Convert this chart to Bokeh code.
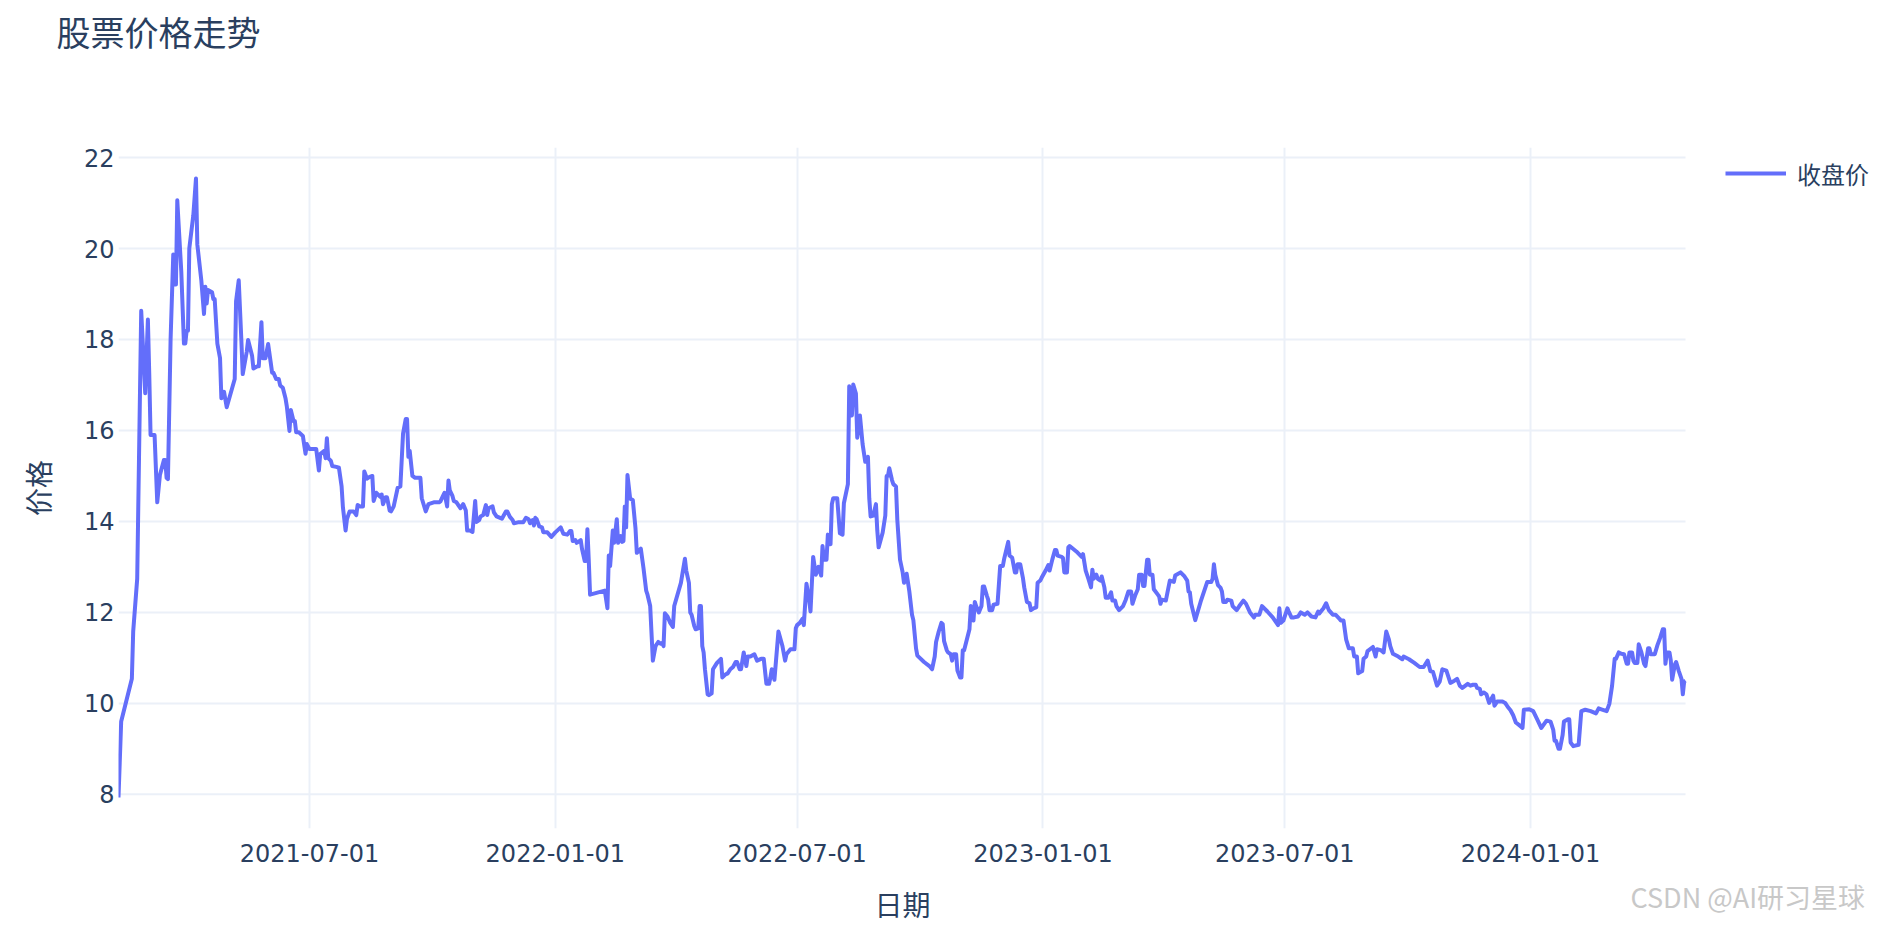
import pandas as pd
from bokeh.plotting import figure
from bokeh.models import (ColumnDataSource, Range1d, FixedTicker, DatetimeTickFormatter,
                          Legend, LegendItem, Title)
from bokeh.embed import file_html
from bokeh.resources import INLINE

title_text = "股票价格走势"
x_label = "日期"
y_label = "价格"
series_name = "收盘价"
watermark = "CSDN @AI研习星球"
y_ticks = [8, 10, 12, 14, 16, 18, 20, 22]
x_ticks = ["2021-07-01", "2022-01-01", "2022-07-01", "2023-01-01", "2023-07-01", "2024-01-01"]

days_2021 = ["02-08", "02-10", "02-18", "02-19", "02-22", "02-25", "02-28", "03-02", "03-03", "03-04",
             "03-07", "03-09", "03-11", "03-14", "03-15", "03-16", "03-17", "03-19", "03-21", "03-22",
             "03-23", "03-24", "03-27", "03-29", "03-30", "03-31", "04-01", "04-02", "04-05", "04-07",
             "04-08", "04-11", "04-13", "04-14", "04-15", "04-16", "04-19", "04-20", "04-21", "04-23",
             "04-25", "04-26", "04-28", "04-30", "05-06", "05-07", "05-09", "05-11", "05-12", "05-15",
             "05-16", "05-19", "05-20", "05-23", "05-24", "05-26", "05-27", "05-29", "05-31", "06-02",
             "06-03", "06-04", "06-06", "06-08", "06-09", "06-11", "06-13", "06-14", "06-16", "06-17",
             "06-19", "06-20", "06-21", "06-23", "06-26", "06-28", "06-29", "07-01", "07-04", "07-06",
             "07-08", "07-09", "07-12", "07-13", "07-14", "07-15", "07-17", "07-18", "07-21", "07-23",
             "07-25", "07-26", "07-28", "07-29", "07-31", "08-03", "08-05", "08-06", "08-08", "08-10",
             "08-11", "08-13", "08-15", "08-17", "08-18", "08-20", "08-22", "08-23", "08-24", "08-25",
             "08-27", "08-28", "08-30", "08-31", "09-02", "09-05", "09-07", "09-09", "09-11", "09-12",
             "09-13", "09-14", "09-16", "09-18", "09-22", "09-23", "09-26", "09-28", "10-02", "10-06",
             "10-07", "10-09", "10-10", "10-12", "10-13", "10-14", "10-16", "10-17", "10-19", "10-21",
             "10-22", "10-24", "10-26", "10-27", "10-29", "10-31", "11-02", "11-03", "11-05", "11-06",
             "11-08", "11-10", "11-11", "11-12", "11-15", "11-16", "11-18", "11-22", "11-25", "11-26",
             "11-28", "11-30", "12-01", "12-04", "12-08", "12-10", "12-12", "12-13", "12-15", "12-16",
             "12-17", "12-18", "12-20", "12-22", "12-23", "12-26", "12-29"]
close_2021 = [7.93, 9.60, 10.54, 11.58, 12.74, 18.63, 16.82, 18.44, 17.27, 15.90,
              15.90, 14.42, 15.02, 15.35, 15.35, 14.96, 14.93, 18.01, 19.87, 19.21,
              19.21, 21.06, 19.49, 17.91, 17.91, 18.19, 18.19, 20.00, 20.73, 21.54,
              20.09, 19.30, 18.56, 19.16, 18.79, 19.09, 19.04, 18.89, 18.89, 17.91,
              17.59, 16.71, 16.85, 16.51, 17.13, 18.84, 19.30, 17.96, 17.24, 17.73,
              17.99, 17.64, 17.36, 17.41, 17.41, 18.38, 17.59, 17.59, 17.90, 17.48,
              17.27, 17.27, 17.13, 17.13, 16.99, 16.94, 16.71, 16.53, 15.99, 16.45,
              16.21, 16.21, 15.96, 15.96, 15.88, 15.49, 15.70, 15.59, 15.59, 15.59,
              15.12, 15.48, 15.55, 15.39, 15.83, 15.39, 15.33, 15.22, 15.20, 15.18,
              14.77, 14.31, 13.80, 14.05, 14.22, 14.22, 14.14, 14.36, 14.33, 14.33,
              15.10, 14.94, 14.98, 15.00, 14.45, 14.63, 14.57, 14.54, 14.59, 14.38,
              14.53, 14.53, 14.24, 14.22, 14.33, 14.74, 14.77, 15.93, 16.25, 16.25,
              15.42, 15.55, 15.00, 14.96, 14.96, 14.51, 14.22, 14.38, 14.42, 14.42,
              14.44, 14.57, 14.63, 14.33, 14.90, 14.68, 14.56, 14.45, 14.42, 14.33,
              14.29, 14.38, 14.24, 13.80, 13.80, 13.77, 14.45, 13.99, 14.03, 14.11,
              14.14, 14.36, 14.14, 14.29, 14.33, 14.20, 14.11, 14.06, 14.22, 14.22,
              14.10, 14.03, 13.96, 13.98, 13.98, 14.08, 14.05, 13.96, 14.03, 13.91,
              14.08, 14.05, 13.89, 13.87, 13.76, 13.76, 13.66]

days_2022 = ["01-01", "01-05", "01-07", "01-10", "01-12", "01-13", "01-14", "01-16", "01-17", "01-20",
             "01-21", "01-23", "01-24", "01-25", "01-26", "01-27", "02-07", "02-09", "02-10", "02-11",
             "02-13", "02-14", "02-16", "02-17", "02-19", "02-20", "02-21", "02-22", "02-23", "02-24",
             "02-26", "02-28", "03-02", "03-03", "03-06", "03-08", "03-10", "03-11", "03-13", "03-15",
             "03-17", "03-19", "03-21", "03-22", "03-23", "03-24", "03-26", "03-28", "03-30", "03-31",
             "04-05", "04-08", "04-09", "04-11", "04-12", "04-13", "04-15", "04-16", "04-18", "04-19",
             "04-20", "04-21", "04-22", "04-23", "04-25", "04-26", "04-28", "04-29", "05-02", "05-05",
             "05-06", "05-08", "05-10", "05-12", "05-14", "05-16", "05-17", "05-19", "05-20", "05-22",
             "05-24", "05-25", "05-27", "05-30", "06-01", "06-04", "06-06", "06-08", "06-10", "06-11",
             "06-12", "06-14", "06-17", "06-20", "06-22", "06-23", "06-26", "06-29", "06-30", "07-01",
             "07-03", "07-05", "07-06", "07-08", "07-10", "07-11", "07-13", "07-15", "07-17", "07-19",
             "07-20", "07-21", "07-23", "07-24", "07-26", "07-27", "07-28", "07-31", "08-02", "08-04",
             "08-05", "08-08", "08-09", "08-11", "08-12", "08-14", "08-15", "08-17", "08-19", "08-21",
             "08-23", "08-24", "08-25", "08-27", "08-29", "08-30", "08-31", "09-03", "09-05", "09-06",
             "09-07", "09-08", "09-10", "09-11", "09-13", "09-14", "09-16", "09-18", "09-19", "09-21",
             "09-23", "09-25", "09-26", "09-28", "09-29", "10-04", "10-08", "10-10", "10-12", "10-13",
             "10-15", "10-17", "10-18", "10-19", "10-21", "10-22", "10-24", "10-25", "10-26", "10-28",
             "10-29", "10-31", "11-01", "11-02", "11-03", "11-05", "11-07", "11-08", "11-10", "11-11",
             "11-12", "11-14", "11-16", "11-17", "11-18", "11-20", "11-21", "11-22", "11-24", "11-25",
             "11-28", "11-30", "12-02", "12-03", "12-06", "12-07", "12-09", "12-11", "12-12", "12-13",
             "12-15", "12-17", "12-18", "12-20", "12-22", "12-23", "12-25", "12-27", "12-28", "12-30",
             "12-31"]
close_2022 = [13.76, 13.87, 13.73, 13.71, 13.79, 13.79, 13.57, 13.59, 13.53, 13.59,
              13.39, 13.13, 13.13, 13.83, 13.16, 12.39, 12.48, 12.09, 13.25, 13.02,
              13.80, 13.53, 14.05, 13.53, 13.68, 13.55, 13.57, 14.33, 13.87, 15.02,
              14.50, 14.47, 13.85, 13.31, 13.40, 12.97, 12.48, 12.39, 12.14, 10.94,
              11.26, 11.35, 11.31, 11.33, 11.26, 11.98, 11.91, 11.77, 11.68, 12.14,
              12.65, 13.18, 12.92, 12.65, 12.00, 11.95, 11.70, 11.63, 11.65, 12.14,
              12.14, 11.26, 11.12, 10.75, 10.20, 10.18, 10.22, 10.75, 10.89, 10.98,
              10.57, 10.63, 10.66, 10.75, 10.80, 10.91, 10.91, 10.75, 10.75, 11.12,
              10.82, 11.03, 11.03, 11.08, 10.94, 10.98, 10.98, 10.43, 10.43, 10.57,
              10.75, 10.52, 11.58, 11.26, 10.94, 11.08, 11.19, 11.19, 11.65, 11.72,
              11.77, 11.86, 11.72, 12.63, 12.28, 12.02, 13.22, 12.83, 13.00, 12.81,
              13.46, 13.16, 13.16, 13.71, 13.50, 14.38, 14.51, 14.51, 13.74, 13.71,
              14.40, 14.82, 16.97, 16.33, 17.01, 16.81, 15.84, 16.33, 15.70, 15.31,
              15.42, 14.51, 14.11, 14.13, 14.38, 13.80, 13.43, 13.75, 14.13, 15.00,
              15.00, 15.17, 14.91, 14.82, 14.77, 14.03, 13.16, 12.88, 12.65, 12.85,
              12.46, 11.95, 11.83, 11.21, 11.05, 10.91, 10.82, 10.75, 11.03, 11.35,
              11.58, 11.77, 11.74, 11.37, 11.17, 11.12, 11.08, 10.94, 11.08, 11.08,
              10.72, 10.57, 10.57, 11.17, 11.17, 11.40, 11.63, 12.14, 11.82, 12.23,
              12.14, 12.00, 12.14, 12.57, 12.57, 12.37, 12.28, 12.05, 12.05, 12.17,
              12.19, 13.02, 13.02, 13.18, 13.55, 13.25, 13.20, 12.88, 12.88, 13.06,
              13.06, 12.76, 12.55, 12.23, 12.20, 12.05, 12.09, 12.11, 12.65, 12.70,
              12.76]

days_2023 = ["01-03", "01-05", "01-06", "01-08", "01-10", "01-11", "01-12", "01-15", "01-16", "01-17",
             "01-19", "01-20", "01-21", "01-26", "01-30", "01-31", "02-02", "02-04", "02-06", "02-07",
             "02-08", "02-10", "02-11", "02-13", "02-14", "02-16", "02-17", "02-19", "02-21", "02-22",
             "02-24", "02-25", "02-27", "03-02", "03-04", "03-06", "03-08", "03-09", "03-11", "03-13",
             "03-14", "03-16", "03-17", "03-18", "03-20", "03-21", "03-22", "03-24", "03-25", "03-28",
             "03-29", "03-30", "03-31", "04-03", "04-06", "04-09", "04-10", "04-14", "04-17", "04-19",
             "04-20", "04-21", "04-22", "04-25", "04-29", "05-04", "05-07", "05-08", "05-09", "05-10",
             "05-12", "05-14", "05-15", "05-16", "05-18", "05-19", "05-22", "05-23", "05-26", "05-28",
             "05-31", "06-02", "06-05", "06-08", "06-09", "06-12", "06-14", "06-18", "06-22", "06-26",
             "06-27", "06-28", "06-30", "07-03", "07-04", "07-06", "07-08", "07-11", "07-13", "07-16",
             "07-18", "07-21", "07-24", "07-26", "07-27", "07-30", "08-01", "08-03", "08-06", "08-08",
             "08-11", "08-12", "08-14", "08-16", "08-18", "08-21", "08-22", "08-24", "08-25", "08-28",
             "08-29", "08-31", "09-01", "09-05", "09-07", "09-08", "09-11", "09-13", "09-15", "09-17",
             "09-18", "09-20", "09-24", "09-27", "09-28", "10-02", "10-06", "10-10", "10-13", "10-16",
             "10-18", "10-20", "10-23", "10-25", "10-27", "10-30", "11-02", "11-05", "11-07", "11-09",
             "11-11", "11-15", "11-17", "11-19", "11-21", "11-22", "11-24", "11-25", "11-27", "11-29",
             "12-01", "12-04", "12-05", "12-07", "12-11", "12-13", "12-15", "12-17", "12-19", "12-21",
             "12-24", "12-26", "12-27", "12-31"]
close_2023 = [12.92, 13.04, 12.92, 13.16, 13.37, 13.37, 13.25, 13.22, 13.20, 12.88,
              12.88, 13.43, 13.46, 13.34, 13.22, 13.28, 12.92, 12.74, 12.55, 12.94,
              12.74, 12.83, 12.74, 12.70, 12.79, 12.55, 12.32, 12.32, 12.44, 12.26,
              12.26, 12.14, 12.05, 12.14, 12.28, 12.46, 12.46, 12.19, 12.37, 12.51,
              12.83, 12.83, 12.58, 12.58, 13.16, 13.16, 12.83, 12.83, 12.51, 12.39,
              12.35, 12.19, 12.28, 12.26, 12.70, 12.67, 12.81, 12.88, 12.79, 12.70,
              12.46, 12.44, 12.19, 11.83, 12.23, 12.67, 12.67, 12.74, 13.06, 12.83,
              12.60, 12.54, 12.46, 12.23, 12.23, 12.28, 12.26, 12.14, 12.05, 12.14,
              12.26, 12.19, 12.00, 11.89, 11.95, 11.95, 12.14, 12.02, 11.89, 11.72,
              12.09, 11.77, 11.82, 12.09, 12.02, 11.89, 11.89, 11.91, 12.00, 11.95,
              12.00, 11.91, 11.89, 12.02, 11.98, 12.09, 12.20, 12.05, 11.95, 11.95,
              11.86, 11.82, 11.82, 11.40, 11.21, 11.21, 11.03, 11.03, 10.66, 10.71,
              10.98, 11.03, 11.15, 11.24, 11.03, 11.19, 11.17, 11.12, 11.58, 11.40,
              11.26, 11.09, 11.03, 10.97, 11.03, 10.97, 10.89, 10.80, 10.80, 10.94,
              10.71, 10.69, 10.39, 10.48, 10.75, 10.72, 10.45, 10.50, 10.54, 10.39,
              10.34, 10.43, 10.39, 10.41, 10.41, 10.34, 10.32, 10.20, 10.24, 10.20,
              10.01, 10.17, 9.95, 10.04, 10.04, 10.01, 9.92, 9.85, 9.74, 9.58,
              9.51, 9.46, 9.86, 9.87]

days_2024 = ["01-03", "01-06", "01-09", "01-13", "01-16", "01-18", "01-19", "01-20", "01-22", "01-23",
             "01-25", "01-26", "01-29", "01-30", "01-31", "02-02", "02-06", "02-08", "02-11", "02-15",
             "02-19", "02-21", "02-23", "02-27", "02-29", "03-02", "03-04", "03-05", "03-07", "03-09",
             "03-11", "03-13", "03-14", "03-15", "03-17", "03-18", "03-19", "03-21", "03-22", "03-24",
             "03-26", "03-27", "03-29", "03-30", "03-31", "04-03", "04-05", "04-07", "04-09", "04-10",
             "04-11", "04-12", "04-14", "04-15", "04-16", "04-18", "04-19", "04-21", "04-23", "04-24",
             "04-25", "04-26"]
close_2024 = [9.83, 9.65, 9.46, 9.62, 9.60, 9.42, 9.18, 9.18, 9.00, 9.00,
              9.30, 9.60, 9.65, 9.65, 9.14, 9.06, 9.09, 9.83, 9.86, 9.83,
              9.78, 9.89, 9.87, 9.83, 9.99, 10.38, 10.98, 10.98, 11.12, 11.09,
              11.08, 10.87, 10.87, 11.12, 11.12, 10.94, 10.89, 10.89, 11.30, 11.12,
              10.87, 10.82, 11.21, 11.21, 11.08, 11.08, 11.28, 11.44, 11.63, 11.63,
              10.87, 11.12, 11.12, 10.94, 10.52, 10.85, 10.91, 10.71, 10.54, 10.20,
              10.48, 10.50]

dates = ([f"2021-{d}" for d in days_2021] + [f"2022-{d}" for d in days_2022]
         + [f"2023-{d}" for d in days_2023] + [f"2024-{d}" for d in days_2024])
closes = close_2021 + close_2022 + close_2023 + close_2024

df = pd.DataFrame({"date": pd.to_datetime(dates), "close": closes})
src = ColumnDataSource(df)

TEXT = "#2a3f5f"
GRID = "#EBF0F8"
CJK = "Noto Sans CJK SC"

# layout (pixels in the figure)
W, H = 1872, 928
FL, FR, FT, FB = 118, 1685, 147, 828   # data area

first, last = df["date"].iloc[0], df["date"].iloc[-1]
x_end = last + (last - first) * ((W - FR) / (FR - FL))   # room on the right for the legend
ymin, ymax = df["close"].min(), df["close"].max()
pad = (ymax - ymin) * 0.05

p = figure(width=W, height=H, x_axis_type="datetime", output_backend="svg",
           toolbar_location=None, title=None,
           x_range=Range1d(first, x_end), y_range=Range1d(ymin - pad, ymax + pad),
           min_border_left=FL, min_border_right=0, min_border_top=FT,
           min_border_bottom=H - FB)
p.outline_line_color = None
p.background_fill_color = "white"
p.border_fill_color = "white"

# horizontal grid lines limited to the data area
grid_src = ColumnDataSource(dict(x0=[first] * len(y_ticks), x1=[last] * len(y_ticks), y=y_ticks))
p.segment(x0="x0", y0="y", x1="x1", y1="y", source=grid_src, line_color=GRID, line_width=2)

r = p.line(x="date", y="close", source=src, line_color="#636efa", line_width=4,
           line_join="round")

p.yaxis.axis_label = y_label
for ax in (p.xaxis[0], p.yaxis[0]):
    ax.axis_line_color = None
    ax.major_tick_line_color = None
    ax.minor_tick_line_color = None
    ax.major_tick_out = 0
    ax.major_tick_in = 0
    ax.minor_tick_out = 0
    ax.minor_tick_in = 0
    ax.major_label_text_font = "DejaVu Sans"
    ax.major_label_text_font_size = "24px"
    ax.major_label_text_color = TEXT
    ax.axis_label_text_font = CJK
    ax.axis_label_text_font_size = "28px"
    ax.axis_label_text_font_style = "normal"
    ax.axis_label_text_color = TEXT

p.xaxis.ticker = FixedTicker(ticks=[pd.Timestamp(t).value // 10**6 for t in x_ticks])
p.xaxis.formatter = DatetimeTickFormatter(days="%Y-%m-%d", months="%Y-%m-%d", years="%Y-%m-%d")
p.xaxis.major_label_standoff = 15
p.yaxis.ticker = FixedTicker(ticks=y_ticks)
p.yaxis.major_label_standoff = 4
p.yaxis.axis_label_standoff = 23

p.xgrid.grid_line_color = GRID
p.xgrid.grid_line_width = 2
p.ygrid.grid_line_color = None

# --- titles stacked in the top panel (first added sits next to the plot area)
p.add_layout(Title(text=" ", text_font=CJK, text_font_size="34px", standoff=36.7), "above")
p.add_layout(Title(text=title_text, text_font=CJK, text_font_size="34px",
                   text_font_style="normal", text_color=TEXT, align="left",
                   offset=-62, standoff=7), "above")

# --- bottom panel: axis, spacer, watermark, x-axis title
p.add_layout(Title(text=" ", text_font=CJK, text_font_size="28px", standoff=-15.5), "below")
p.add_layout(Title(text=watermark, text_font=CJK, text_font_size="27px",
                   text_font_style="normal", text_color="#c8c8c8", align="left",
                   offset=1630 - FL, standoff=-33.1), "below")
p.add_layout(Title(text=x_label, text_font=CJK, text_font_size="28px",
                   text_font_style="normal", text_color=TEXT, align="left",
                   offset=874 - FL, standoff=-36.5), "below")

legend = Legend(items=[LegendItem(label=series_name, renderers=[r])],
                location=(1725 - FL, 637),
                padding=0, margin=0, spacing=0, border_line_color=None,
                background_fill_alpha=0, glyph_width=61, glyph_height=36,
                label_height=36, label_standoff=11, label_text_font=CJK,
                label_text_font_size="24px", label_text_color=TEXT)
p.add_layout(legend)

open("out.html", "w").write(file_html(p, INLINE))
